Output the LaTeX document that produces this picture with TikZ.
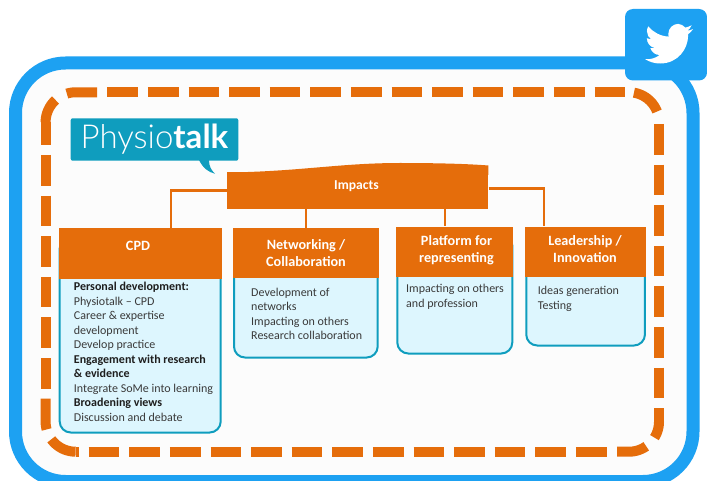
\documentclass[tikz,border=0pt]{standalone}
\usepackage{fontspec}
\setmainfont{Carlito}
\newfontfamily\logofont{Lato}[UprightFont=* Light,BoldFont=* Bold]
\definecolor{twblue}{HTML}{1DA1F2}
\definecolor{orng}{HTML}{E56D0B}
\definecolor{teal1}{HTML}{0F9DBE}
\definecolor{paleblue}{HTML}{DDF6FE}
\definecolor{panel}{HTML}{FCFCFC}
\definecolor{txt}{HTML}{3A3A3A}
\definecolor{txtb}{HTML}{1E1E1E}
\newcommand{\cornerdash}[5]{% centre x, centre y, start angle, end angle (page clockwise), extra path
  \draw[dashseg] plot[domain=#3:#4,samples=16] ({#1+30*cos(\x)},{#2+30*sin(\x)}) #5;}
\tikzset{
  x=1pt,y=-1pt,
  dashseg/.style={draw=orng,line width=10pt,line cap=butt,line join=round},
  dashside/.style={dashseg,dash pattern=on 30.6pt off 10pt},
  headbox/.style={fill=orng,inner sep=0pt,text=white,align=center,font=\fontsize{14.2}{17}\selectfont\bfseries},
  bodybox/.style={draw=teal1,fill=paleblue,line width=2pt,rounded corners=11pt,inner sep=0pt},
  bodytext/.style={anchor=north west,inner sep=0pt,align=left,text=txt,font=\fontsize{12}{14.5}\selectfont},
  linkline/.style={draw=orng,line width=2.3pt},
}
\newcommand{\bh}[1]{\textbf{\textcolor{txtb}{#1}}}
\begin{document}
\begin{tikzpicture}
\clip (0,0) rectangle (707,481);
\fill[white] (0,0) rectangle (707,481);
% outer frame
\draw[draw=twblue,fill=panel,line width=13pt,rounded corners=50pt] (15.5,63) rectangle (693,481.5);
% twitter badge
\fill[twblue,rounded corners=8pt] (625,9) rectangle (707,80.5);
\begin{scope}[shift={(645,20)},x=2pt,y=-2pt]
\fill[white] (23.953,4.57) .. controls (23.05,4.97) and (22.1,5.23) .. (21.128,5.345)
 .. controls (22.1,4.75) and (22.9,3.8) .. (23.291,2.622)
 .. controls (22.34,3.177) and (21.286,3.581) .. (20.164,3.806)
 .. controls (19.27,2.85) and (18.0,1.95) .. (16.6,1.95)
 .. controls (13.9,1.95) and (11.68,4.15) .. (11.68,6.87)
 .. controls (11.68,7.25) and (11.72,7.85) .. (11.78,8.288)
 .. controls (7.69,8.095) and (4.067,6.13) .. (1.64,3.162)
 .. controls (1.22,3.88) and (.974,4.73) .. (.974,5.637)
 .. controls (.974,7.347) and (1.844,8.85) .. (3.162,9.733)
 .. controls (2.35,9.7) and (1.59,9.49) .. (.934,9.117)
 -- (.934,9.177)
 .. controls (.934,11.55) and (2.63,13.55) .. (4.88,14.004)
 .. controls (4.16,14.2) and (3.41,14.23) .. (2.668,14.089)
 .. controls (3.29,16.03) and (5.09,17.47) .. (7.272,17.506)
 .. controls (5.58,18.83) and (3.45,19.611) .. (1.17,19.611)
 .. controls (.78,19.611) and (.391,19.588) .. (0,19.544)
 .. controls (2.19,20.94) and (4.78,21.753) .. (7.557,21.753)
 .. controls (16.61,21.753) and (21.555,14.257) .. (21.555,7.768)
 .. controls (21.555,7.558) and (21.555,7.348) .. (21.54,7.138)
 .. controls (22.5,6.44) and (23.33,5.58) .. (24,4.59) -- cycle;
\end{scope}
% dashed orange frame: straight runs
\draw[dashside] (107.3,92.3) -- (625,92.3);
\draw[dashside] (659,124) -- (659,398.2);
\draw[dashside] (88.7,451.7) -- (606.7,451.7);
\draw[dashside] (45.6,155) -- (45.6,388.8);
% dashed orange frame: corners
\cornerdash{75.6}{122.3}{180}{228}{}
\draw[dashseg] (45.6,145) -- (45.6,122.3);
\cornerdash{75.6}{122.3}{253}{270}{-- (97,92.3)}
\cornerdash{629}{122.3}{279.5}{339}{}
\cornerdash{629}{421.7}{0}{32}{}
\draw[dashseg] (659,408.3) -- (659,421.7);
\cornerdash{629}{421.7}{55}{90}{-- (617,451.7)}
\cornerdash{75.6}{421.7}{90}{144}{}
\draw[dashseg] (79,451.7) -- (75.6,451.7);
\cornerdash{75.6}{421.7}{165}{180}{-- (45.6,398.7)}
% logo
\fill[teal1] (199,160) .. controls (203,168) and (208,172) .. (215,173.7) .. controls (211,170) and (209,166) .. (209,160) -- cycle;
\node[fill=teal1,rounded corners=2pt,minimum width=167.6pt,minimum height=42.4pt,inner sep=0pt,text=white] (logo) at (154.5,139.5)
  {\logofont\fontsize{33}{33}\selectfont Physio\textbf{talk}};
% impacts
\node[fill=orng,inner sep=0pt,minimum width=261pt,minimum height=37pt] (impacts) at (357.8,190.5) {};
\fill[orng] (227.3,172.5) .. controls (300,171.5) and (340,163) .. (400,163) .. controls (440,163) and (470,164) .. (488.3,165.5) -- (488.3,175) -- (227.3,175) -- cycle;
\node[inner sep=0pt,text=white,font=\fontsize{13.6}{17}\selectfont\bfseries] (impt) at (356.5,186) {Impacts};
% column bodies
\node[bodybox,minimum width=161pt,minimum height=195pt] (cpdb) at (140.2,335) {};
\node[bodybox,minimum width=143.7pt,minimum height=121pt] (netb) at (305.85,297) {};
\node[bodybox,minimum width=115pt,minimum height=119pt] (plab) at (454.8,294) {};
\node[bodybox,minimum width=118.7pt,minimum height=111pt] (leab) at (585.6,290) {};
% column headers
\node[headbox,minimum width=163pt,minimum height=51pt] (cpdh) at (140.2,253.8) {};
\node[headbox,minimum width=145.7pt,minimum height=49.4pt] (neth) at (305.85,253) {};
\node[headbox,minimum width=117pt,minimum height=50pt] (plah) at (454.8,251.7) {};
\node[headbox,minimum width=120.7pt,minimum height=50pt] (leah) at (585.6,251.7) {};
\node[headbox] (cpdt) at (138,245.5) {CPD};
\node[headbox] (nett) at (306,253) {Networking /\\Collaboration};
\node[headbox] (plat) at (456.5,250.5) {Platform for\\representing};
\node[headbox] (leat) at (585,249.5) {Leadership /\\Innovation};
% connectors
\draw[linkline] (impacts.west) -| ([xshift=31pt]cpdh.north);
\draw[linkline] (impacts.south -| neth.north) -- (neth.north);
\draw[linkline] ([xshift=-10pt]plah.north |- impacts.south) -- ([xshift=-10pt]plah.north);
\draw[linkline] ([yshift=2pt]impacts.east) -| ([xshift=-41.6pt]leah.north);
% column texts
\node[bodytext] (cpdx) at (73.7,282) {\bh{Personal development:}\\Physiotalk -- CPD\\Career \& expertise\\development\\Develop practice\\\bh{Engagement with research}\\\bh{\& evidence}\\Integrate SoMe into learning\\\bh{Broadening views}\\Discussion and debate};
\node[bodytext] (netx) at (251,287.5) {Development of\\networks\\Impacting on others\\Research collaboration};
\node[bodytext] (plax) at (406,284) {Impacting on others\\and profession};
\node[bodytext] (leax) at (537.7,286) {Ideas generation\\Testing};
\end{tikzpicture}
\end{document}
